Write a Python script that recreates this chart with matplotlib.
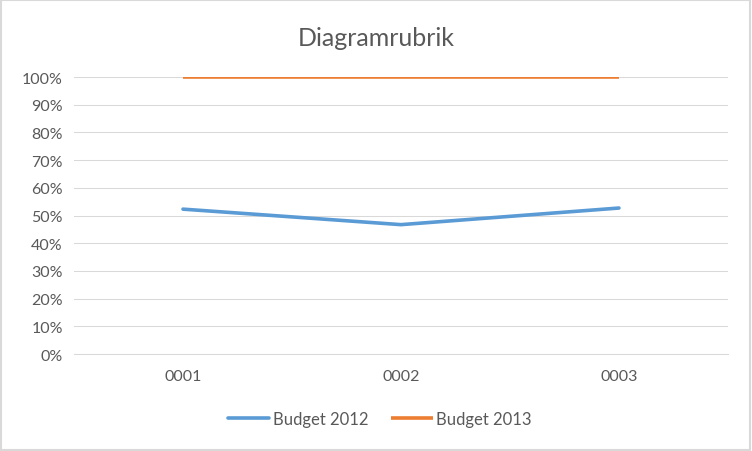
import matplotlib.pyplot as plt
from matplotlib.patches import Rectangle
from matplotlib.ticker import FuncFormatter, MultipleLocator

categories = ['0001', '0002', '0003']
budget_2012 = [0.523, 0.467, 0.527]
budget_2013 = [1.0, 1.0, 1.0]

plt.rcParams['font.family'] = ['Lato', 'DejaVu Sans']
text_col = '#595959'
grid_col = '#D9D9D9'

fig = plt.figure(figsize=(7.52, 4.52), dpi=100)
ax = fig.add_axes([0.0984, 0.2146, 0.8696, 0.6128])

x = range(len(categories))
ax.plot(x, budget_2012, color='#5B9BD5', lw=2.6, solid_capstyle='round', label='Budget 2012')
ax.plot(x, budget_2013, color='#ED7D31', lw=2.6, solid_capstyle='butt', label='Budget 2013')

ax.set_xlim(-0.5, 2.5)
ax.set_ylim(0, 1.0)
ax.yaxis.set_major_locator(MultipleLocator(0.1))
ax.yaxis.set_major_formatter(FuncFormatter(lambda v, p: f'{v * 100:.0f}%'))
ax.set_xticks(list(x))
ax.set_xticklabels(categories)
ax.grid(axis='y', color=grid_col, lw=0.75)
ax.set_axisbelow(True)
for s in ['top', 'right', 'left']:
    ax.spines[s].set_visible(False)
ax.spines['bottom'].set_color(grid_col)
ax.spines['bottom'].set_linewidth(0.75)
ax.tick_params(length=0, labelsize=11.5, colors=text_col, pad=8)
ax.tick_params(axis='x', pad=11)

fig.text(0.5, 0.915, 'Diagramrubrik', ha='center', va='center', fontsize=18, color=text_col)

fig.legend(loc='center', bbox_to_anchor=(0.505, 0.071), ncol=2, frameon=False,
           fontsize=12, labelcolor=text_col, handlelength=2.5, handletextpad=0.2,
           columnspacing=1.4)

fig.patches.append(Rectangle((0.001, 0.002), 0.997, 0.996, transform=fig.transFigure,
                             fill=False, edgecolor=grid_col, lw=1.5))

fig.savefig('out.png', dpi=100, facecolor='white')
